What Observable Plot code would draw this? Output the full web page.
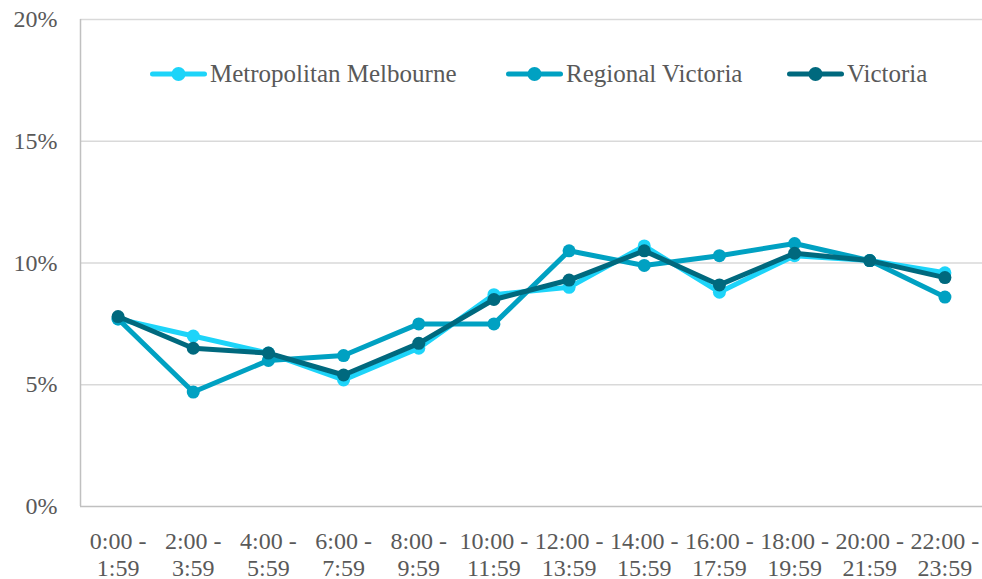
<!DOCTYPE html>
<html>
<head>
<meta charset="utf-8">
<script src="https://cdn.jsdelivr.net/npm/d3@7"></script>
<script src="https://cdn.jsdelivr.net/npm/@observablehq/plot@0.6"></script>
<style>
  html, body { margin: 0; padding: 0; background: #ffffff; }
  #wrap { position: relative; width: 982px; height: 579px; font-family: "Liberation Serif", serif; }
  .legend-item { position: absolute; display: flex; align-items: center; color: #595959; font-size: 25px; white-space: nowrap; }
  .legend-item svg { display: block; margin-right: 3px; }
</style>
</head>
<body>
<div id="wrap"></div>
<script>
// ---- data ----
const timeStart = ["0:00", "2:00", "4:00", "6:00", "8:00", "10:00", "12:00", "14:00", "16:00", "18:00", "20:00", "22:00"];
const timeEnd   = ["1:59", "3:59", "5:59", "7:59", "9:59", "11:59", "13:59", "15:59", "17:59", "19:59", "21:59", "23:59"];
const seriesNames = ["Metropolitan Melbourne", "Regional Victoria", "Victoria"];
const metroValues    = [7.7, 7.0, 6.3, 5.2, 6.5, 8.7, 9.0, 10.7, 8.8, 10.3, 10.1, 9.6];
const regionalValues = [7.7, 4.7, 6.0, 6.2, 7.5, 7.5, 10.5, 9.9, 10.3, 10.8, 10.1, 8.6];
const victoriaValues = [7.8, 6.5, 6.3, 5.4, 6.7, 8.5, 9.3, 10.5, 9.1, 10.4, 10.1, 9.4];
const yTicks = [0, 5, 10, 15, 20];

// ---- styling ----
const seriesColors = ["#1dd4f9", "#00a1c2", "#00697e"];
const legendLeft = [150, 506, 787];
const textColor = "#595959";

const seriesValues = [metroValues, regionalValues, victoriaValues];
const labels = timeStart.map((s, i) => s + " -\n" + timeEnd[i]);
const idx = d3.range(timeStart.length);

const marks = [
  Plot.gridY(yTicks.filter(d => d > 0), {stroke: "#d9d9d9", strokeOpacity: 1, strokeWidth: 1.5}),
  Plot.ruleY([0], {stroke: "#c0c0c0", strokeWidth: 1.5}),
  Plot.ruleX([-0.5], {y1: 0, y2: 20, stroke: "#c0c0c0", strokeWidth: 1.5}),
  Plot.axisY(yTicks, {tickFormat: d => d + "%", tickSize: 0, tickPadding: 23, fontSize: 24, label: null}),
  Plot.axisX(idx, {tickFormat: i => labels[i], tickSize: 0, tickPadding: 23, fontSize: 24, lineHeight: 1.125, label: null})
];

seriesNames.forEach((name, s) => {
  const data = idx.map(i => ({i, v: seriesValues[s][i]}));
  marks.push(Plot.line(data, {x: "i", y: "v", stroke: seriesColors[s], strokeWidth: 5, strokeLinejoin: "round", strokeLinecap: "round"}));
  marks.push(Plot.dot(data, {x: "i", y: "v", r: 6.5, fill: seriesColors[s], stroke: "none"}));
});

const chart = Plot.plot({
  width: 982,
  height: 579,
  marginTop: 19,
  marginBottom: 73,
  marginLeft: 80,
  marginRight: 0,
  x: {type: "linear", domain: [-0.5, 11.5], axis: null},
  y: {domain: [0, 20], axis: null},
  style: {fontFamily: "'Liberation Serif', serif", color: textColor, background: "#ffffff", overflow: "visible"},
  marks
});

const wrap = document.getElementById("wrap");
wrap.appendChild(chart);

// ---- legend ----
seriesNames.forEach((name, s) => {
  const item = document.createElement("div");
  item.className = "legend-item";
  item.style.left = legendLeft[s] + "px";
  item.style.top = "56px";
  item.style.height = "36px";
  const ns = "http://www.w3.org/2000/svg";
  const svg = document.createElementNS(ns, "svg");
  svg.setAttribute("width", "57");
  svg.setAttribute("height", "20");
  const line = document.createElementNS(ns, "line");
  line.setAttribute("x1", "2.5"); line.setAttribute("x2", "54.5");
  line.setAttribute("y1", "10"); line.setAttribute("y2", "10");
  line.setAttribute("stroke", seriesColors[s]);
  line.setAttribute("stroke-width", "5");
  line.setAttribute("stroke-linecap", "round");
  const c = document.createElementNS(ns, "circle");
  c.setAttribute("cx", "28.5"); c.setAttribute("cy", "10"); c.setAttribute("r", "7");
  c.setAttribute("fill", seriesColors[s]);
  svg.appendChild(line); svg.appendChild(c);
  item.appendChild(svg);
  const t = document.createElement("span");
  t.textContent = name;
  item.appendChild(t);
  wrap.appendChild(item);
});
</script>
</body>
</html>
